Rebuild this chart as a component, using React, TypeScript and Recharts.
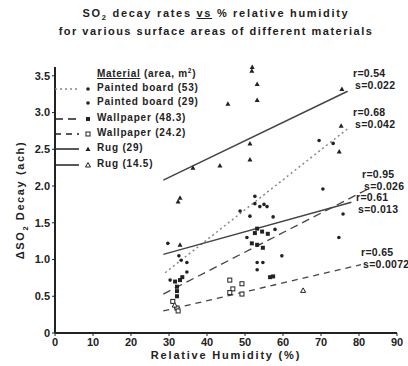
import React from "react";
import {
  ComposedChart,
  Scatter,
  Line,
  XAxis,
  YAxis,
} from "recharts";

// points (x = % RH, y = decay in ach)
const rug29 = [
  { x: 32.4, y: 1.79 }, { x: 32.9, y: 1.84 }, { x: 36.3, y: 2.25 }, { x: 43.4, y: 2.28 },
  { x: 45.5, y: 3.12 }, { x: 51.3, y: 2.58 }, { x: 51.3, y: 2.36 }, { x: 51.8, y: 3.57 },
  { x: 51.9, y: 3.62 }, { x: 53.2, y: 3.39 }, { x: 53.2, y: 3.17 }, { x: 75.5, y: 3.32 },
  { x: 32.9, y: 1.2 }, { x: 75.3, y: 2.82 }, { x: 74.8, y: 2.47 },
];
const board53 = [
  { x: 29.7, y: 1.22 }, { x: 32.6, y: 1.05 }, { x: 33.2, y: 0.99 }, { x: 34.7, y: 0.96 },
  { x: 34.7, y: 0.83 }, { x: 48.7, y: 1.66 }, { x: 51.3, y: 1.59 }, { x: 52.6, y: 1.86 },
  { x: 52.6, y: 1.76 }, { x: 53.9, y: 1.72 }, { x: 55.0, y: 1.75 }, { x: 55.8, y: 1.72 },
  { x: 57.4, y: 1.58 }, { x: 69.5, y: 2.62 }, { x: 73.2, y: 2.58 },
];
const board29 = [
  { x: 30.3, y: 0.72 }, { x: 53.2, y: 0.96 }, { x: 54.7, y: 0.96 }, { x: 53.2, y: 0.86 },
  { x: 57.9, y: 1.41 }, { x: 59.7, y: 1.05 }, { x: 70.5, y: 1.96 }, { x: 74.7, y: 1.3 },
  { x: 75.8, y: 1.62 }, { x: 50.5, y: 1.3 },
];
const wall48 = [
  { x: 31.6, y: 0.7 }, { x: 32.1, y: 0.63 }, { x: 32.1, y: 0.57 }, { x: 32.1, y: 0.5 },
  { x: 32.9, y: 0.72 }, { x: 33.5, y: 0.76 }, { x: 51.8, y: 1.22 }, { x: 53.2, y: 1.2 },
  { x: 54.7, y: 1.16 }, { x: 53.2, y: 1.42 }, { x: 52.6, y: 1.36 }, { x: 54.5, y: 1.38 },
  { x: 56.0, y: 1.35 }, { x: 56.6, y: 0.76 }, { x: 57.4, y: 0.77 },
];
const wall24 = [
  { x: 31.0, y: 0.43 }, { x: 32.1, y: 0.34 }, { x: 32.4, y: 0.3 }, { x: 46.0, y: 0.72 },
  { x: 49.2, y: 0.67 }, { x: 46.8, y: 0.6 }, { x: 46.0, y: 0.55 }, { x: 49.2, y: 0.53 },
];
const rug145 = [{ x: 65.3, y: 0.58 }, { x: 31.5, y: 0.38 }];

// regression lines (end points)
const rug29Fit = [{ x: 28.5, y: 2.08 }, { x: 77, y: 3.29 }];
const board53Fit = [{ x: 29, y: 0.82 }, { x: 77.5, y: 2.8 }];
const rug145Fit = [{ x: 28.5, y: 1.07 }, { x: 78, y: 1.78 }];
const wall48Fit = [{ x: 28.5, y: 0.53 }, { x: 82, y: 1.95 }];
const wall24Fit = [{ x: 28.5, y: 0.3 }, { x: 80.5, y: 0.93 }];

const xTicks = [0, 10, 20, 30, 40, 50, 60, 70, 80, 90];
const yTicks = [0, 0.5, 1, 1.5, 2, 2.5, 3, 3.5];

const fitLabels = [
  { r: "r=0.54", s: "s=0.022", left: 353, top: 67 },
  { r: "r=0.68", s: "s=0.042", left: 353, top: 106 },
  { r: "r=0.95", s: "s=0.026", left: 362, top: 168 },
  { r: "r=0.61", s: "s=0.013", left: 356, top: 191 },
  { r: "r=0.65", s: "s=0.0072", left: 361, top: 246 },
];

const ink = "#222";
const font = "'Liberation Sans', Arial, sans-serif";

const dot = (p: any) => <circle cx={p.cx} cy={p.cy} r={1.8} fill={ink} />;
const square = (p: any) => <rect x={p.cx - 2} y={p.cy - 2} width={4} height={4} fill={ink} />;
const openSquare = (p: any) => (
  <rect x={p.cx - 2} y={p.cy - 2} width={4} height={4} fill="#fff" stroke={ink} strokeWidth={1} />
);
const tri = (p: any) => (
  <polygon points={`${p.cx},${p.cy - 2.5} ${p.cx - 2.5},${p.cy + 2} ${p.cx + 2.5},${p.cy + 2}`} fill={ink} />
);
const openTri = (p: any) => (
  <polygon
    points={`${p.cx},${p.cy - 2.5} ${p.cx - 2.5},${p.cy + 2} ${p.cx + 2.5},${p.cy + 2}`}
    fill="#fff"
    stroke={ink}
    strokeWidth={1}
  />
);

const legendRows = [
  { label: "Painted board (53)", dash: "2 3", color: "#888", marker: "dot" },
  { label: "Painted board (29)", dash: "", color: "none", marker: "dot" },
  { label: "Wallpaper (48.3)", dash: "8 5", color: ink, marker: "square" },
  { label: "Wallpaper (24.2)", dash: "6 5", color: ink, marker: "openSquare" },
  { label: "Rug (29)", dash: "", color: ink, marker: "tri" },
  { label: "Rug (14.5)", dash: "", color: ink, marker: "openTri" },
];
const markers: Record<string, (p: any) => React.ReactElement> = { dot, square, openSquare, tri, openTri };

export default function App() {
  const text = { position: "absolute" as const, fontFamily: font, fontWeight: 700, color: ink };
  return (
    <div style={{ position: "absolute", left: 0, top: 0, width: 408, height: 366, background: "#fff" }}>
      <div style={{ ...text, left: 0, width: 432, top: 7, textAlign: "center", fontSize: 11, letterSpacing: 1.7 }}>
        SO<sub style={{ fontSize: 7.5 }}>2</sub> decay rates <u>vs</u> % relative humidity
      </div>
      <div style={{ ...text, left: 0, width: 432, top: 25, textAlign: "center", fontSize: 11, letterSpacing: 1.5 }}>
        for various surface areas of different materials
      </div>

      <ComposedChart width={408} height={366} margin={{ top: 67, right: 11, bottom: 8, left: 25 }}>
        <XAxis
          type="number"
          dataKey="x"
          domain={[0, 90]}
          ticks={xTicks}
          allowDataOverflow
          axisLine={{ stroke: ink, strokeWidth: 2 }}
          tickLine={{ stroke: ink }}
          tickSize={3}
          height={25}
          tick={{ fontSize: 11, fontWeight: 700, fill: ink, fontFamily: font }}
        />
        <YAxis
          type="number"
          dataKey="y"
          domain={[0, 3.5]}
          ticks={yTicks}
          width={30}
          axisLine={{ stroke: ink, strokeWidth: 2 }}
          tickLine={{ stroke: ink }}
          tickSize={3}
          tickFormatter={(v: number) => (v === 0 ? "0" : v.toFixed(1))}
          tick={{ fontSize: 11, fontWeight: 700, fill: ink, fontFamily: font }}
        />
        <Line data={rug29Fit} dataKey="y" stroke="#444" strokeWidth={1.5} dot={false} isAnimationActive={false} />
        <Line data={board53Fit} dataKey="y" stroke="#888" strokeWidth={1.5} strokeDasharray="2 3" dot={false} isAnimationActive={false} />
        <Line data={rug145Fit} dataKey="y" stroke="#444" strokeWidth={1.5} dot={false} isAnimationActive={false} />
        <Line data={wall48Fit} dataKey="y" stroke="#444" strokeWidth={1.3} strokeDasharray="8 5" dot={false} isAnimationActive={false} />
        <Line data={wall24Fit} dataKey="y" stroke="#444" strokeWidth={1.3} strokeDasharray="6 5" dot={false} isAnimationActive={false} />
        <Scatter data={board53} dataKey="y" shape={dot} isAnimationActive={false} />
        <Scatter data={board29} dataKey="y" shape={dot} isAnimationActive={false} />
        <Scatter data={wall48} dataKey="y" shape={square} isAnimationActive={false} />
        <Scatter data={wall24} dataKey="y" shape={openSquare} isAnimationActive={false} />
        <Scatter data={rug29} dataKey="y" shape={tri} isAnimationActive={false} />
        <Scatter data={rug145} dataKey="y" shape={openTri} isAnimationActive={false} />
      </ComposedChart>

      {/* legend */}
      <div style={{ ...text, left: 97, top: 67, fontSize: 10, letterSpacing: 0.7, whiteSpace: "nowrap" }}>
        <u>Material</u> (area, m<sup style={{ fontSize: 6.5 }}>2</sup>)
      </div>
      {legendRows.map((row, i) => {
        const top = [89, 103, 119, 134, 149, 165][i];
        const M = markers[row.marker];
        return (
          <React.Fragment key={row.label}>
            <svg style={{ position: "absolute", left: 52, top: top - 6 }} width={42} height={12}>
              {row.color !== "none" && (
                <line x1={3} y1={6} x2={27} y2={6} stroke={row.color} strokeWidth={1.5} strokeDasharray={row.dash || undefined} />
              )}
              <M cx={36} cy={6} />
            </svg>
            <div style={{ ...text, left: 97, top: top - 7, fontSize: 10, letterSpacing: 0.8, whiteSpace: "nowrap" }}>
              {row.label}
            </div>
          </React.Fragment>
        );
      })}

      {fitLabels.map((f) => (
        <React.Fragment key={f.r}>
          <div style={{ ...text, left: f.left, top: f.top, fontSize: 10.5, letterSpacing: 0.3 }}>{f.r}</div>
          <div style={{ ...text, left: f.left + 2, top: f.top + 12, fontSize: 10.5, letterSpacing: 0.3 }}>{f.s}</div>
        </React.Fragment>
      ))}

      <div style={{ ...text, left: 0, width: 452, top: 349, textAlign: "center", fontSize: 11, letterSpacing: 1.8 }}>
        Relative Humidity (%)
      </div>
      <div
        style={{
          ...text,
          left: 22,
          top: 200,
          fontSize: 11,
          letterSpacing: 1.6,
          whiteSpace: "nowrap",
          transform: "translate(-50%, -50%) rotate(-90deg)",
        }}
      >
        ΔSO<sub style={{ fontSize: 7.5 }}>2</sub> Decay (ach)
      </div>
    </div>
  );
}
